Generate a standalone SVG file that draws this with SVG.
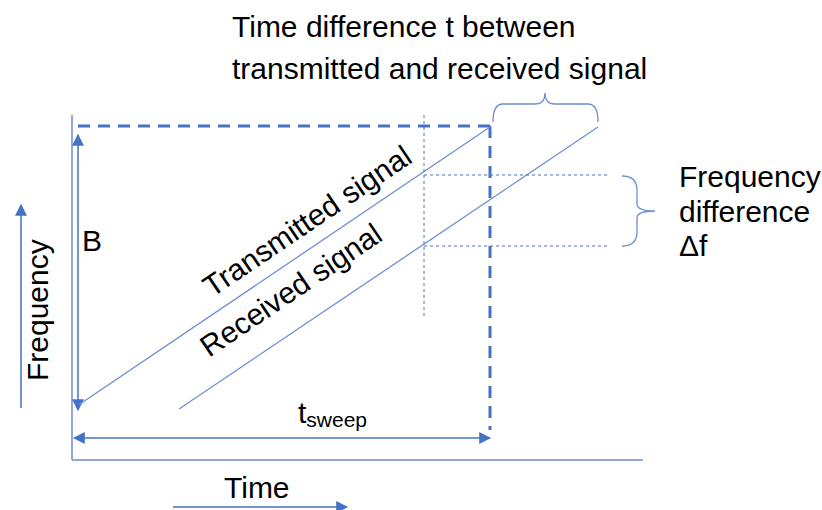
<svg xmlns="http://www.w3.org/2000/svg" width="822" height="510" viewBox="0 0 822 510">
<style>
  .t{font-family:"Liberation Sans",Arial,sans-serif;fill:#000;font-size:30px}
  .ax{stroke:#8fa9d9;stroke-width:2;fill:none}
  .thin{stroke:#6f8fd0;stroke-width:1.3;fill:none}
  .arr{stroke:#4472c4;stroke-width:1.5;fill:none}
  .dash{stroke:#4472c4;stroke-width:3;stroke-dasharray:12,8;fill:none}
  .dot{stroke:#4472c4;stroke-width:1;stroke-dasharray:3,3;fill:none}
</style>
<defs>
  <marker id="ahb" viewBox="0 0 10 10" refX="9" refY="5" markerWidth="12" markerHeight="12" markerUnits="userSpaceOnUse" orient="auto-start-reverse">
    <path d="M0,0 L10,5 L0,10 z" fill="#4472c4"/>
  </marker>
</defs>
<g id="connectors">
  <line class="ax" x1="72" y1="115" x2="72" y2="460"/>
  <line class="ax" x1="72" y1="460" x2="643" y2="460"/>
  <line class="dash" x1="78" y1="126" x2="490" y2="126"/>
  <line class="dash" x1="490" y1="126" x2="490" y2="430"/>
  <line class="arr" x1="78" y1="135" x2="78" y2="410" marker-start="url(#ahb)" marker-end="url(#ahb)"/>
  <line class="arr" x1="74" y1="438" x2="490" y2="438" marker-start="url(#ahb)" marker-end="url(#ahb)"/>
  <line class="arr" x1="21" y1="408" x2="21" y2="205" marker-end="url(#ahb)"/>
  <line class="arr" x1="173" y1="507" x2="347" y2="507" marker-end="url(#ahb)"/>
  <line class="thin" x1="80" y1="404" x2="490" y2="127"/>
  <line class="thin" x1="179" y1="409" x2="598" y2="127"/>
  <line class="dot" x1="424" y1="115" x2="424" y2="316"/>
  <line class="dot" x1="424" y1="175" x2="610" y2="175"/>
  <line class="dot" x1="424" y1="246" x2="610" y2="246"/>
  <path class="thin" d="M493,122 Q493,104 503,104 L535,104 Q545,104 545,93 Q545,104 555,104 L588,104 Q598,104 598,122"/>
  <path class="thin" d="M622,176 Q637,176 637,190 L637,204 Q637,211 655,211 Q637,211 637,218 L637,232 Q637,246 622,246"/>
</g>
<g id="title">
  <text class="t" x="232" y="37">Time difference t between</text>
  <text class="t" x="232" y="79">transmitted and received signal</text>
</g>
<g id="freqdiff">
  <text class="t" x="679" y="187">Frequency</text>
  <text class="t" x="679" y="222">difference</text>
  <text class="t" x="679" y="256">Δf</text>
</g>
<g id="labels">
  <text class="t" x="82" y="251">B</text>
  <text class="t" transform="translate(48,381) rotate(-90)">Frequency</text>
  <text class="t" x="298" y="423">t<tspan font-size="21" dy="4">sweep</tspan></text>
  <text class="t" x="224" y="498">Time</text>
  <text class="t" font-size="28" transform="translate(212,298) rotate(-34.1)">Transmitted signal</text>
  <text class="t" font-size="28" transform="translate(209,358) rotate(-34.1)">Received signal</text>
</g>
</svg>
